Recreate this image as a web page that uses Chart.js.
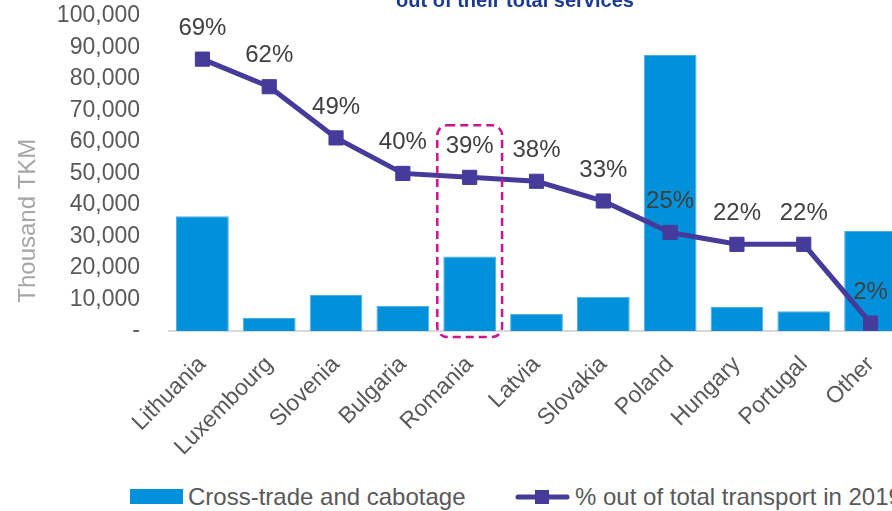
<!DOCTYPE html>
<html>
<head>
<meta charset="utf-8">
<script src="https://cdn.jsdelivr.net/npm/chart.js@4.4.1/dist/chart.umd.min.js"></script>
<style>
html, body { margin: 0; padding: 0; background: #fff; overflow: hidden; }
#wrap { position: relative; width: 892px; height: 511px; overflow: hidden; }
#graph_1 { position: absolute; left: 0; top: -27px; }
#legend { position: absolute; left: 0; top: 485px; height: 24px; width: 1100px;
          font: 24px "Liberation Sans", Arial, sans-serif; color: #595959; white-space: nowrap; }
#legend .item { position: absolute; top: 0; height: 24px; line-height: 24px; }
#legend .icon { position: absolute; top: 4px; }
</style>
</head>
<body>
<div id="wrap">
  <canvas id="graph_1" width="1030" height="508"></canvas>
  <div id="legend"></div>
</div>
<script>
// data
const countries = ['Lithuania', 'Luxembourg', 'Slovenia', 'Bulgaria', 'Romania', 'Latvia',
                   'Slovakia', 'Poland', 'Hungary', 'Portugal', 'Other'];
const crossTrade = [36400, 4100, 11400, 7900, 23600, 5400, 10900, 87600, 7600, 6300, 31700];
const shareOfTotal = [69, 62, 49, 40, 39, 38, 33, 25, 22, 22, 2];
const yMax = 100000;
const yStep = 10000;
const pctMax = 80;
const highlightCategory = 'Romania';
const chartTitle = 'out of their total services';
const yAxisTitle = 'Thousand TKM';
const barLabel = 'Cross-trade and cabotage';
const lineLabel = '% out of total transport in 2019';

const BLUE = '#0091DA';
const PURPLE = '#463A9B';
const FONT = '"Liberation Sans", Arial, sans-serif';

// % labels above the line
const pctLabels = {
  id: 'pctLabels',
  afterDatasetsDraw(chart) {
    const {ctx} = chart;
    const meta = chart.getDatasetMeta(1);
    ctx.save();
    ctx.font = '24px ' + FONT;
    ctx.fillStyle = '#404040';
    ctx.textAlign = 'center';
    ctx.textBaseline = 'middle';
    meta.data.forEach((pt, i) => {
      ctx.fillText(shareOfTotal[i] + '%', pt.x, pt.y - 31);
    });
    ctx.restore();
  }
};

// dashed box round the highlighted country
const highlight = {
  id: 'highlight',
  afterDatasetsDraw(chart) {
    const {ctx, scales} = chart;
    const i = countries.indexOf(highlightCategory);
    const half = (scales.x.getPixelForValue(1) - scales.x.getPixelForValue(0)) / 2;
    const cx = scales.x.getPixelForValue(i);
    const pt = chart.getDatasetMeta(1).data[i];
    const left = cx - half + 1, right = cx + half - 1;
    const top = pt.y - 52, bottom = scales.y.getPixelForValue(0) + 6;
    ctx.save();
    ctx.strokeStyle = '#CC1490';
    ctx.lineWidth = 2.5;
    ctx.setLineDash([8, 5]);
    ctx.beginPath();
    ctx.roundRect(left, top, right - left, bottom - top, 10);
    ctx.stroke();
    ctx.restore();
  }
};

// y axis title, sits a bit below the middle of the axis
const yTitle = {
  id: 'yTitle',
  afterDraw(chart) {
    const {ctx, chartArea} = chart;
    ctx.save();
    ctx.translate(28, chartArea.top + chartArea.height * 0.65);
    ctx.rotate(-Math.PI / 2);
    ctx.font = '24px ' + FONT;
    ctx.fillStyle = '#A6A6A6';
    ctx.textAlign = 'center';
    ctx.textBaseline = 'middle';
    ctx.fillText(yAxisTitle, 0, 0);
    ctx.restore();
  }
};

const ctx = document.getElementById('graph_1');
const chart = new Chart(ctx, {
  data: {
    labels: countries,
    datasets: [{
      type: 'bar',
      label: barLabel,
      data: crossTrade,
      backgroundColor: BLUE,
      borderColor: '#4DAFE6',
      borderWidth: 1,
      barPercentage: 0.79,
      categoryPercentage: 1,
      yAxisID: 'y',
      order: 2
    }, {
      type: 'line',
      label: lineLabel,
      data: shareOfTotal,
      borderColor: PURPLE,
      backgroundColor: PURPLE,
      borderWidth: 5,
      pointStyle: 'rect',
      pointRadius: 10,
      pointBorderWidth: 1,
      pointBackgroundColor: PURPLE,
      pointBorderColor: PURPLE,
      tension: 0,
      yAxisID: 'y2',
      order: 1
    }]
  },
  options: {
    responsive: false,
    animation: false,
    layout: { padding: 0 },
    plugins: {
      title: {
        display: true,
        text: chartTitle,
        color: '#1B3A94',
        font: { family: FONT, size: 20, weight: 'bold' },
        padding: { top: 10, bottom: 2 }
      },
      legend: { display: false },
      tooltip: { enabled: false }
    },
    scales: {
      x: {
        offset: true,
        afterFit: s => { s.height = 150; },
        grid: { display: false, drawTicks: false },
        border: { display: true, color: '#D9D9D9', width: 2 },
        ticks: {
          color: '#595959',
          font: { family: FONT, size: 23 },
          minRotation: 45,
          maxRotation: 45,
          autoSkip: false,
          padding: 20
        }
      },
      y: {
        min: 0,
        max: yMax,
        afterFit: s => { s.width = 169; },
        grid: { display: false, drawTicks: false },
        border: { display: false },
        ticks: {
          stepSize: yStep,
          autoSkip: false,
          padding: 29,
          color: '#595959',
          font: { family: FONT, size: 23 },
          callback: v => v === 0 ? '-' : v.toLocaleString('en-US')
        }
      },
      y2: {
        position: 'right',
        min: 0,
        max: pctMax,
        afterFit: s => { s.width = 126; },
        grid: { display: false, drawTicks: false },
        border: { display: false },
        ticks: { display: false }
      }
    }
  },
  plugins: [highlight, pctLabels, yTitle]
});

// legend below the chart, built from the datasets
const legend = document.getElementById('legend');
function addItem(left, iconHtml, iconWidth, text) {
  const el = document.createElement('div');
  el.className = 'item';
  el.style.left = left + 'px';
  el.innerHTML = iconHtml + '<span style="margin-left:' + (iconWidth + 5) + 'px">' + text + '</span>';
  legend.appendChild(el);
}
const ds = chart.data.datasets;
addItem(130,
  '<span class="icon" style="left:0;width:53px;height:15px;background:' + ds[0].backgroundColor + '"></span>',
  53, ds[0].label);
addItem(515,
  '<svg class="icon" style="left:0;top:4px" width="55" height="16">' +
  '<line x1="3" y1="8" x2="52" y2="8" stroke="' + ds[1].borderColor + '" stroke-width="5" stroke-linecap="round"/>' +
  '<rect x="20" y="1" width="14" height="14" fill="' + ds[1].borderColor + '"/></svg>',
  55, ds[1].label);
</script>
</body>
</html>
